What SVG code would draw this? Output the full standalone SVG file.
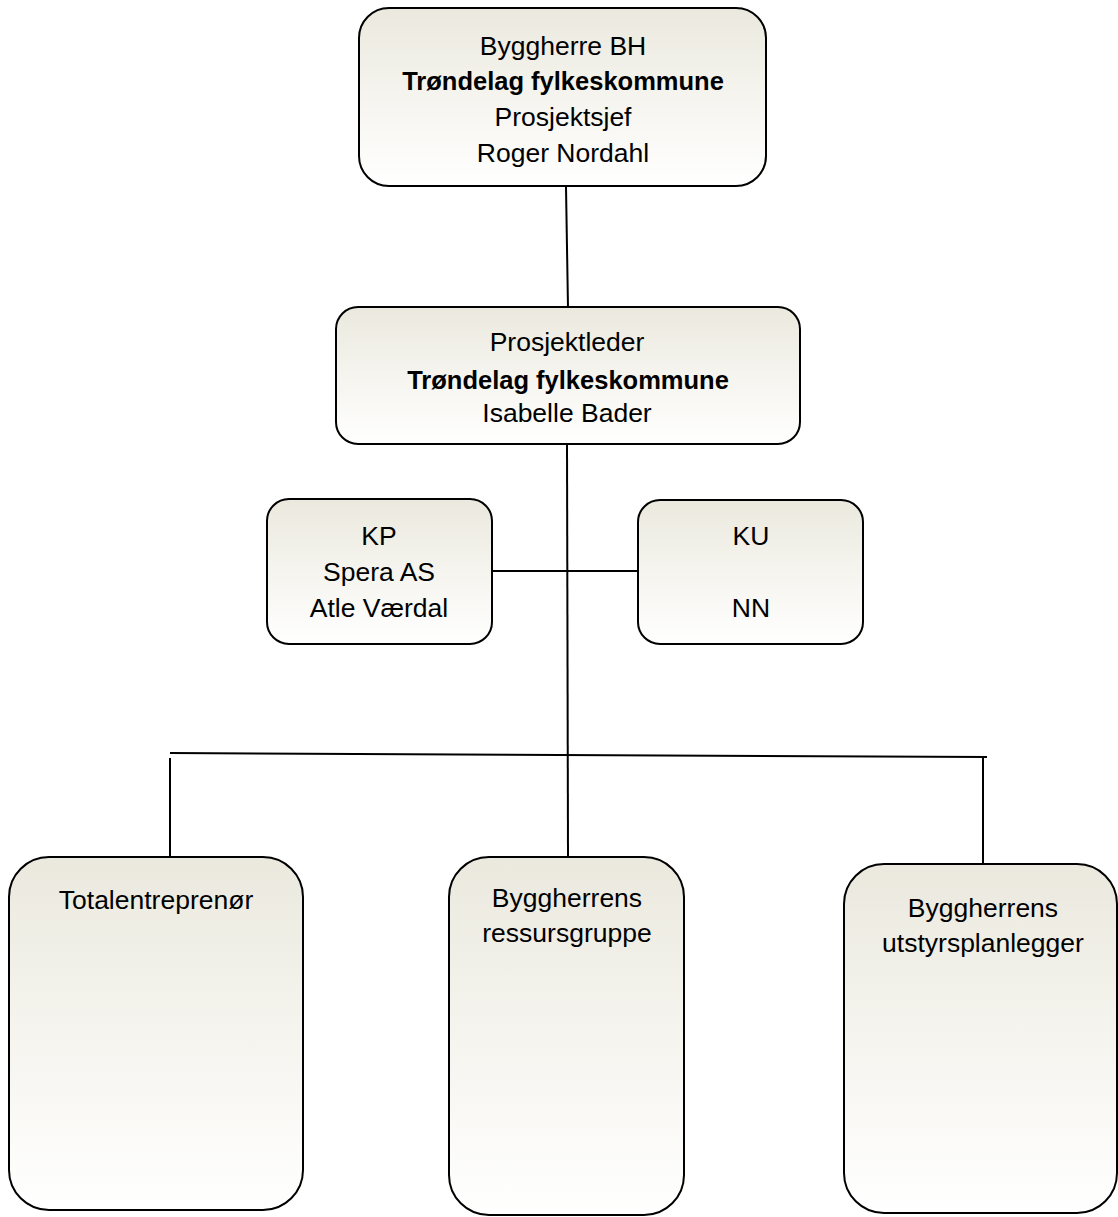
<svg xmlns="http://www.w3.org/2000/svg" width="1118" height="1217" viewBox="0 0 1118 1217">
<defs>
<linearGradient id="g" x1="0" y1="0" x2="0" y2="1">
<stop offset="0" stop-color="#EBE9DE"/>
<stop offset="1" stop-color="#FFFFFF"/>
</linearGradient>
</defs>
<style>
.box{fill:url(#g);stroke:#000;stroke-width:2}
.t{font-family:"Liberation Sans",Arial,sans-serif;font-size:26.5px;fill:#000;text-anchor:middle}
.b{font-weight:bold;font-size:25.5px}
.c{stroke:#000;stroke-width:2;fill:none}
</style>
<g id="connectors">
<line class="c" x1="566" y1="187" x2="568" y2="308"/>
<line class="c" x1="567" y1="445" x2="568" y2="857"/>
<line class="c" x1="492" y1="571" x2="638" y2="571"/>
<line class="c" x1="170" y1="753" x2="987" y2="757"/>
<line class="c" x1="170" y1="758" x2="170" y2="857"/>
<line class="c" x1="983" y1="757" x2="983" y2="864"/>
</g>
<g id="bh">
<rect class="box" x="359" y="8" width="407" height="178" rx="30"/>
<text class="t" x="563" y="55">Byggherre BH</text>
<text class="t b" x="563" y="90">Trøndelag fylkeskommune</text>
<text class="t" x="563" y="126">Prosjektsjef</text>
<text class="t" x="563" y="162">Roger Nordahl</text>
</g>
<g id="pl">
<rect class="box" x="336" y="307" width="464" height="137" rx="22"/>
<text class="t" x="567" y="351">Prosjektleder</text>
<text class="t b" x="568" y="389">Trøndelag fylkeskommune</text>
<text class="t" x="567" y="422">Isabelle Bader</text>
</g>
<g id="kp">
<rect class="box" x="267" y="499" width="225" height="145" rx="22"/>
<text class="t" x="379" y="545">KP</text>
<text class="t" x="379" y="581">Spera AS</text>
<text class="t" x="379" y="617">Atle Værdal</text>
</g>
<g id="ku">
<rect class="box" x="638" y="500" width="225" height="144" rx="22"/>
<text class="t" x="751" y="545">KU</text>
<text class="t" x="751" y="617">NN</text>
</g>
<g id="te">
<rect class="box" x="9" y="857" width="294" height="353" rx="40"/>
<text class="t" x="156" y="909">Totalentreprenør</text>
</g>
<g id="rg">
<rect class="box" x="449" y="857" width="235" height="358" rx="40"/>
<text class="t" x="567" y="907">Byggherrens</text>
<text class="t" x="567" y="942">ressursgruppe</text>
</g>
<g id="up">
<rect class="box" x="844" y="864" width="273" height="349" rx="40"/>
<text class="t" x="983" y="917">Byggherrens</text>
<text class="t" x="983" y="952">utstyrsplanlegger</text>
</g>
</svg>
